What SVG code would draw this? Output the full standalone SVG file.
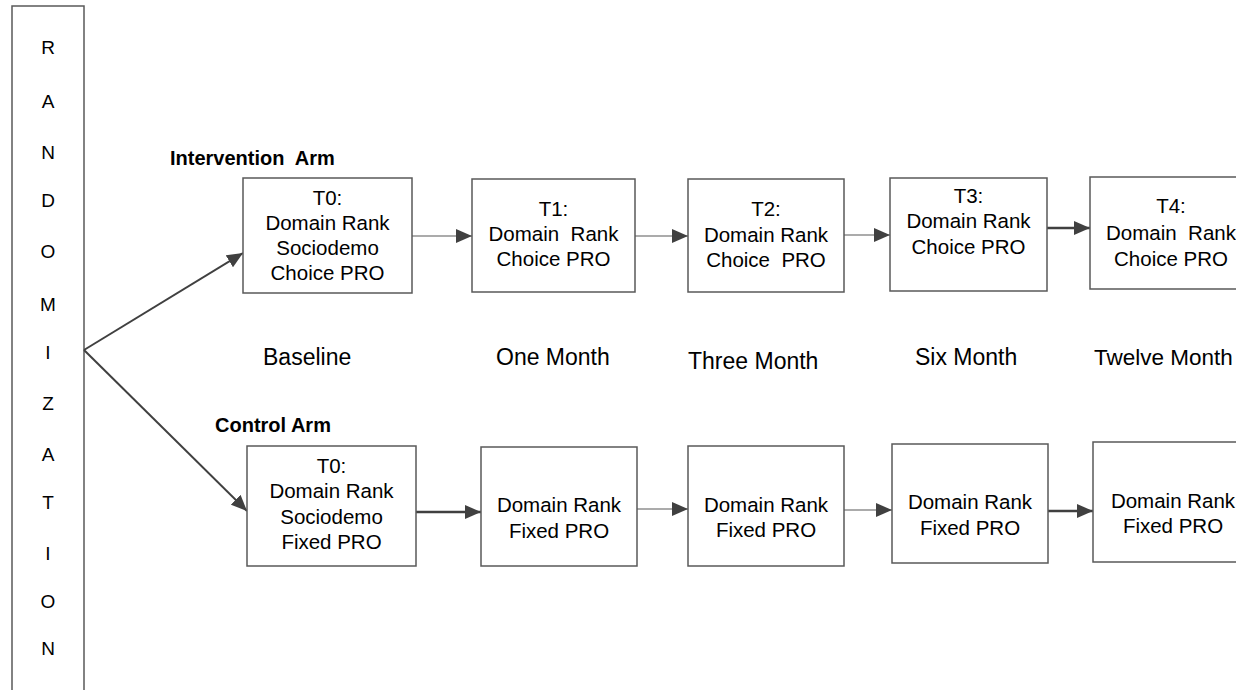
<svg xmlns="http://www.w3.org/2000/svg" width="1236" height="690" viewBox="0 0 1236 690">
<defs>
<marker id="ah" viewBox="0 0 16 14" refX="16" refY="7" markerWidth="16" markerHeight="14" markerUnits="userSpaceOnUse" orient="auto"><path d="M0,0 L16,7 L0,14 z" fill="#404040"/></marker>
</defs>
<style>
.box{fill:#fff;stroke:#595959;stroke-width:1.5}
.t{font-family:"Liberation Sans",Arial,sans-serif;font-size:20.5px;fill:#000;text-anchor:middle}
.lab{font-family:"Liberation Sans",Arial,sans-serif;font-size:23px;fill:#000}
.arm{font-family:"Liberation Sans",Arial,sans-serif;font-size:20px;font-weight:bold;fill:#000}
.rl{font-family:"Liberation Sans",Arial,sans-serif;font-size:19px;fill:#000;text-anchor:middle}
.thin{stroke:#595959;stroke-width:1.2;fill:none;marker-end:url(#ah)}
.thick{stroke:#404040;stroke-width:2.5;fill:none;marker-end:url(#ah)}
.diag{stroke:#404040;stroke-width:2;fill:none;marker-end:url(#ah)}
</style>
<rect width="1236" height="690" fill="#fff"/>
<g id="randomization">
<rect x="12" y="6" width="72" height="700" fill="none" stroke="#595959" stroke-width="1.5"/>
<text class="rl" x="48" y="54">R</text>
<text class="rl" x="48" y="108">A</text>
<text class="rl" x="48" y="159">N</text>
<text class="rl" x="48" y="207">D</text>
<text class="rl" x="48" y="258">O</text>
<text class="rl" x="48" y="311">M</text>
<text class="rl" x="48" y="359">I</text>
<text class="rl" x="48" y="410">Z</text>
<text class="rl" x="48" y="461">A</text>
<text class="rl" x="48" y="509">T</text>
<text class="rl" x="48" y="560">I</text>
<text class="rl" x="48" y="608">O</text>
<text class="rl" x="48" y="655">N</text>
</g>
<g id="labels">
<text class="arm" x="170" y="165" xml:space="preserve">Intervention  Arm</text>
<text class="arm" x="215" y="432">Control Arm</text>
<text class="lab" x="263" y="365">Baseline</text>
<text class="lab" x="496" y="365">One Month</text>
<text class="lab" x="688" y="369">Three Month</text>
<text class="lab" x="915" y="365">Six Month</text>
<text class="lab" x="1094" y="365" style="font-size:22.5px">Twelve Month</text>
</g>
<g id="connectors">
<path class="diag" d="M84,350 L243,253"/>
<path class="diag" d="M84,350 L247,511"/>
<path class="thin" d="M412,236 L472,236"/>
<path class="thin" d="M635,236 L688,236"/>
<path class="thin" d="M844,235 L890,235"/>
<path class="thick" d="M1047,228 L1090,228"/>
<path class="thick" d="M416,512 L481,512"/>
<path class="thin" d="M637,509 L688,509"/>
<path class="thin" d="M844,510 L892,510"/>
<path class="thick" d="M1048,511 L1093,511"/>
</g>
<g id="i-t0">
<rect class="box" x="243" y="178" width="169" height="115"/>
<text class="t" x="327.5" y="205">T0:</text>
<text class="t" x="327.5" y="230">Domain Rank</text>
<text class="t" x="327.5" y="255">Sociodemo</text>
<text class="t" x="327.5" y="280">Choice PRO</text>
</g>
<g id="i-t1">
<rect class="box" x="472" y="179" width="163" height="113"/>
<text class="t" x="553.5" y="216">T1:</text>
<text class="t" x="553.5" y="241" xml:space="preserve">Domain  Rank</text>
<text class="t" x="553.5" y="266">Choice PRO</text>
</g>
<g id="i-t2">
<rect class="box" x="688" y="179" width="156" height="113"/>
<text class="t" x="766" y="216">T2:</text>
<text class="t" x="766" y="242">Domain Rank</text>
<text class="t" x="766" y="267" xml:space="preserve">Choice  PRO</text>
</g>
<g id="i-t3">
<rect class="box" x="890" y="178" width="157" height="113"/>
<text class="t" x="968.5" y="203">T3:</text>
<text class="t" x="968.5" y="228">Domain Rank</text>
<text class="t" x="968.5" y="254">Choice PRO</text>
</g>
<g id="i-t4">
<rect class="box" x="1090" y="177" width="170" height="112"/>
<text class="t" x="1171" y="213">T4:</text>
<text class="t" x="1171" y="240" xml:space="preserve">Domain  Rank</text>
<text class="t" x="1171" y="266">Choice PRO</text>
</g>
<g id="c-t0">
<rect class="box" x="247" y="446" width="169" height="120"/>
<text class="t" x="331.5" y="473">T0:</text>
<text class="t" x="331.5" y="498">Domain Rank</text>
<text class="t" x="331.5" y="524">Sociodemo</text>
<text class="t" x="331.5" y="549">Fixed PRO</text>
</g>
<g id="c-t1">
<rect class="box" x="481" y="447" width="156" height="119"/>
<text class="t" x="559" y="512">Domain Rank</text>
<text class="t" x="559" y="538">Fixed PRO</text>
</g>
<g id="c-t2">
<rect class="box" x="688" y="446" width="156" height="120"/>
<text class="t" x="766" y="512">Domain Rank</text>
<text class="t" x="766" y="537">Fixed PRO</text>
</g>
<g id="c-t3">
<rect class="box" x="892" y="444" width="156" height="119"/>
<text class="t" x="970" y="509">Domain Rank</text>
<text class="t" x="970" y="535">Fixed PRO</text>
</g>
<g id="c-t4">
<rect class="box" x="1093" y="442" width="170" height="120"/>
<text class="t" x="1173" y="508">Domain Rank</text>
<text class="t" x="1173" y="533">Fixed PRO</text>
</g>
</svg>
